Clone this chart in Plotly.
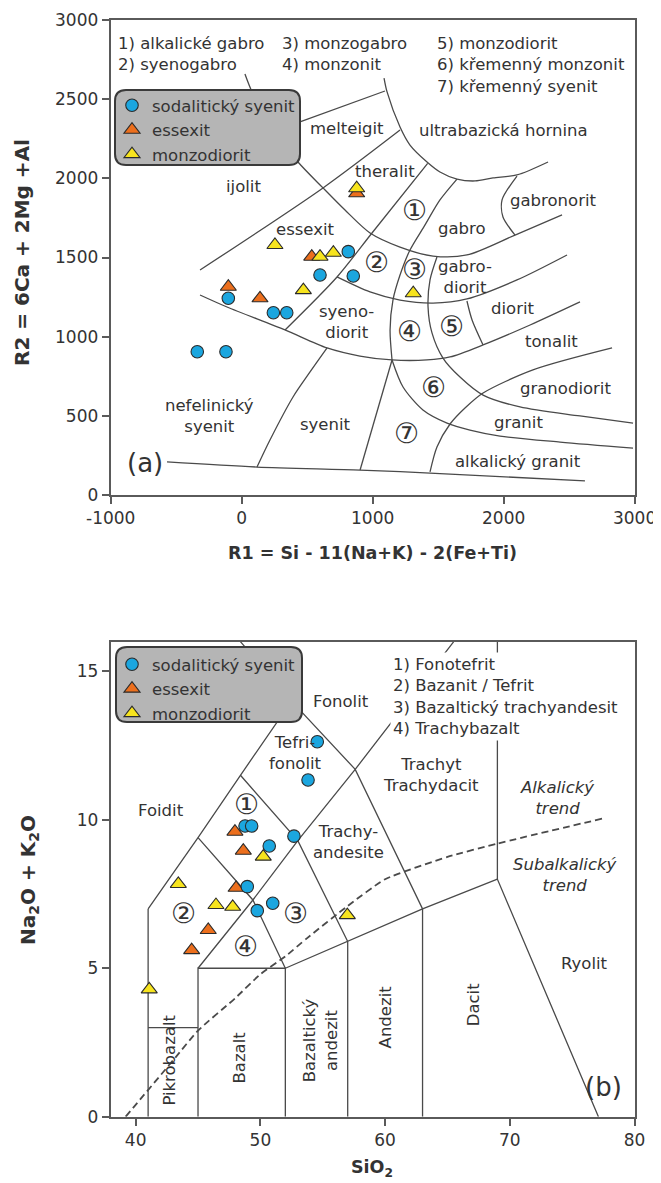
import plotly.graph_objects as go

# ---------------- (a) R1-R2 diagram : samples ----------------
sod_a_r1 = [814, 598, 852, -102, 242, 344, -339, -120]
sod_a_r2 = [1537, 1389, 1383, 1242, 1151, 1151, 904, 904]
ess_a_r1 = [878, 535, -102, 140]
ess_a_r2 = [1906, 1505, 1315, 1242]
mon_a_r1 = [878, 254, 598, 700, 1310, 471]
mon_a_r2 = [1938, 1579, 1505, 1530, 1274, 1294]

a_xticks = [-1000, 0, 1000, 2000, 3000]
a_xticktext = ["-1000", "0", "1000", "2000", "3000"]
a_yticks = [0, 500, 1000, 1500, 2000, 2500, 3000]

# field boundaries of diagram (a), (R1, R2)
a_bottom = [(-570, 207), (117, 175), (904, 156), (1438, 137), (2621, 87)]
a_ultrabasic = [(1087, 2635), (1110, 2547), (1209, 2325), (1285, 2211), (1415, 2104), (1514, 2041),
                (1644, 1996), (1782, 1984), (1919, 2003), (2102, 2022), (2339, 2104)]
a_melteigit = [(445, 2357), (1094, 2553)]
a_ijolit = [(-318, 1421), (621, 1940), (1209, 2306)]
a_arc1 = [(25, 2660), (79, 2547), (232, 2319), (430, 2104), (621, 1940), (789, 1800), (980, 1655),
          (1209, 1566), (1461, 1509), (1720, 1516), (2087, 1642), (2446, 1769)]
a_rb = [(1420, 2095), (995, 1655), (728, 1377), (331, 1042)]
a_arc2 = [(728, 1377), (980, 1282), (1209, 1231), (1461, 1212), (1720, 1238), (2102, 1358), (2484, 1516)]
a_rc = [(1644, 1996), (1514, 1864), (1400, 1706), (1285, 1547), (1209, 1389), (1155, 1231),
        (1133, 1042), (1148, 852)]
a_rc_low = [(1148, 852), (904, 156)]
a_rd = [(1491, 1503), (1438, 1358), (1423, 1187), (1453, 1023), (1537, 864), (1667, 744),
        (1843, 630), (2125, 555), (2583, 498), (2988, 453)]
a_gabronorit = [(2102, 2015), (1988, 1864), (1995, 1756), (2087, 1642)]
a_diorit = [(1720, 1225), (1759, 1105), (1843, 947)]
a_arc3 = [(-318, 1263), (-112, 1187), (331, 1042), (652, 928), (903, 877), (1148, 852), (1415, 852),
          (1591, 871), (1843, 947), (2202, 1073), (2583, 1219)]
a_syenit = [(652, 928), (522, 776), (392, 618), (216, 346), (117, 175)]
a_arc4 = [(1148, 852), (1232, 681), (1384, 536), (1568, 453), (1743, 409), (1972, 371),
          (2431, 333), (2988, 295)]
a_re = [(1438, 144), (1491, 302), (1591, 447), (1705, 548), (1843, 643), (2224, 789), (2828, 928)]

a_curves = [a_ultrabasic, a_arc1, a_arc2, a_rc, a_rd, a_gabronorit, a_diorit, a_arc3, a_syenit, a_arc4, a_re,
            a_ijolit, a_rb, a_bottom]
a_straight = [a_melteigit, a_rc_low]

a_labels = ["melteigit", "ultrabazická hornina", "ijolit", "theralit", "①", "gabro", "gabronorit",
            "essexit", "②", "③", "gabro-<br>diorit", "diorit", "syeno-<br>diorit", "④", "⑤", "tonalit",
            "⑥", "granodiorit", "nefelinický<br>syenit", "syenit", "⑦", "granit", "alkalický granit"]
a_label_x = [802, 1998, 12, 1094, 1323, 1680, 2379, 491, 1031, 1323, 1705, 2074, 802, 1285, 1604, 2367,
             1463, 2474, -242, 642, 1260, 2112, 2112]
a_label_y = [2317, 2306, 1948, 2043, 1800, 1685, 1859, 1678, 1467, 1421, 1379, 1179, 1094, 1031, 1062, 968,
             679, 673, 496, 447, 384, 455, 209]

a_key_col1 = "1) alkalické gabro<br>2) syenogabro"
a_key_col2 = "3) monzogabro<br>4) monzonit"
a_key_col3 = "5) monzodiorit<br>6) křemenný monzonit<br>7) křemenný syenit"

# ---------------- (b) TAS diagram : samples ----------------
sod_b_si = [54.56, 53.82, 48.77, 49.30, 52.69, 50.71, 48.95, 50.99, 49.75]
sod_b_alk = [12.63, 11.34, 9.79, 9.79, 9.45, 9.12, 7.75, 7.19, 6.94]
ess_b_si = [47.96, 48.63, 48.05, 45.82, 44.49]
ess_b_alk = [9.60, 8.96, 7.71, 6.29, 5.61]
mon_b_si = [50.23, 43.42, 46.44, 47.78, 56.97, 41.09]
mon_b_alk = [8.76, 7.84, 7.13, 7.07, 6.79, 4.29]

b_xticks = [40, 50, 60, 70, 80]
b_yticks = [0, 5, 10, 15]

b_pikro_v = [(41, 0), (41, 7)]
b_pikro_h = [(41, 3), (45, 3)]
b_basalt = [(45, 0), (45, 5), (52, 5), (52, 0)]
b_57 = [(57, 0), (57, 5.9)]
b_63 = [(63, 0), (63, 7)]
b_69 = [(69, 16), (69, 8), (77.1, 0)]
b_sub = [(52, 5), (57, 5.9), (63, 7), (69, 8)]
b_foid = [(41, 7), (45, 9.4), (48.4, 11.5), (52.5, 14), (48.4, 16)]
b_u1 = [(45, 9.4), (49.4, 7.3), (52, 5)]
b_s = [(45, 5), (49.4, 7.3), (53, 9.3), (57.6, 11.7), (65.5, 16)]
b_u2 = [(48.4, 11.5), (53, 9.3), (57, 5.9)]
b_u3 = [(52.5, 14), (57.6, 11.7), (63, 7)]
b_lines = [b_pikro_v, b_pikro_h, b_basalt, b_57, b_63, b_69, b_sub, b_foid, b_u1, b_s, b_u2, b_u3]

b_trend_si = [39.2, 43.2, 45, 48, 50, 52, 53.7, 57, 60, 65, 69, 77.5]
b_trend_alk = [0, 2, 2.9, 4, 4.8, 5.4, 6, 7.1, 8, 8.75, 9.2, 10.05]

b_labels = ["Fonolit", "Tefri-<br>fonolit", "Foidit", "①", "Trachy-<br>andesite", "Trachyt<br>Trachydacit",
            "②", "③", "④", "Ryolit"]
b_label_x = [56.5, 52.8, 42.0, 48.9, 57.05, 63.7, 43.8, 52.8, 48.8, 76.0]
b_label_y = [14.0, 12.25, 10.33, 10.5, 9.27, 11.5, 6.85, 6.85, 5.73, 5.17]
b_italic = ["Alkalický<br>trend", "Subalkalický<br>trend"]
b_italic_x = [73.75, 74.4]
b_italic_y = [10.75, 8.15]
b_vert = ["Pikrobazalt", "Bazalt", "Bazaltický<br>andezit", "Andezit", "Dacit"]
b_vert_x = [42.7, 48.3, 54.8, 60.05, 67.06]
b_vert_y = [1.9, 2.0, 2.58, 3.37, 3.76]
b_key = "1) Fonotefrit<br>2) Bazanit / Tefrit<br>3) Bazaltický trachyandesit<br>4) Trachybazalt"

series_names = ["sodalitický syenit", "essexit", "monzodiorit"]

# ---------------- styling ----------------
FONT = "DejaVu Sans, Liberation Sans, Arial, sans-serif"
TXT = "#333333"
LINE = "#4a4a4a"
BLUE, ORANGE, YELLOW = "#1ba6df", "#ec6f1d", "#f7e41e"
EDGE = "#2b2b2b"
FS = 16.5
CIRC = 28

# page places the figure 8px from the top-left corner; positions below are page pixels
OFF = 8
W, H = 661 - OFF, 1183 - OFF


def PX(px):
    return (px - OFF) / W


def PY(py):
    return 1 - (py - OFF) / H


fig = go.Figure()


def add_line(pts, xa, ya, shape="linear", dash="solid", width=1.3):
    fig.add_trace(go.Scatter(x=[p[0] for p in pts], y=[p[1] for p in pts], mode="lines",
                             line=dict(color=LINE, width=width, shape=shape, dash=dash, smoothing=0.8),
                             xaxis=xa, yaxis=ya, showlegend=False, hoverinfo="skip"))


for c in a_curves:
    add_line(c, "x", "y", shape="spline")
for c in a_straight:
    add_line(c, "x", "y")
for c in b_lines:
    add_line(c, "x2", "y2")
fig.add_trace(go.Scatter(x=b_trend_si, y=b_trend_alk, mode="lines",
                         line=dict(color=LINE, width=1.8, dash="7px,4px", shape="spline", smoothing=0.5),
                         xaxis="x2", yaxis="y2", showlegend=False, hoverinfo="skip"))

mk = dict(line=dict(color=EDGE, width=1.1))
# (a) samples
fig.add_trace(go.Scatter(x=sod_a_r1, y=sod_a_r2, mode="markers", name=series_names[0],
                         marker=dict(symbol="circle", size=12.5, color=BLUE, **mk), xaxis="x", yaxis="y",
                         legend="legend"))
fig.add_trace(go.Scatter(x=ess_a_r1, y=ess_a_r2, mode="markers", name=series_names[1],
                         marker=dict(symbol="triangle-up", size=14, color=ORANGE, **mk), xaxis="x", yaxis="y",
                         legend="legend"))
fig.add_trace(go.Scatter(x=mon_a_r1, y=mon_a_r2, mode="markers", name=series_names[2],
                         marker=dict(symbol="triangle-up", size=14, color=YELLOW, **mk), xaxis="x", yaxis="y",
                         legend="legend"))
# (b) samples
fig.add_trace(go.Scatter(x=ess_b_si, y=ess_b_alk, mode="markers", name=series_names[1], legendrank=2,
                         marker=dict(symbol="triangle-up", size=14, color=ORANGE, **mk), xaxis="x2", yaxis="y2",
                         legend="legend2"))
fig.add_trace(go.Scatter(x=mon_b_si, y=mon_b_alk, mode="markers", name=series_names[2], legendrank=3,
                         marker=dict(symbol="triangle-up", size=14, color=YELLOW, **mk), xaxis="x2", yaxis="y2",
                         legend="legend2"))
fig.add_trace(go.Scatter(x=sod_b_si, y=sod_b_alk, mode="markers", name=series_names[0], legendrank=1,
                         marker=dict(symbol="circle", size=12.5, color=BLUE, **mk), xaxis="x2", yaxis="y2",
                         legend="legend2"))


def rbox(x0, y0, x1, y1, r=11):
    # rounded rectangle in paper coords from page-pixel box
    return (f"M {PX(x0 + r)},{PY(y0)} L {PX(x1 - r)},{PY(y0)} Q {PX(x1)},{PY(y0)} {PX(x1)},{PY(y0 + r)} "
            f"L {PX(x1)},{PY(y1 - r)} Q {PX(x1)},{PY(y1)} {PX(x1 - r)},{PY(y1)} "
            f"L {PX(x0 + r)},{PY(y1)} Q {PX(x0)},{PY(y1)} {PX(x0)},{PY(y1 - r)} "
            f"L {PX(x0)},{PY(y0 + r)} Q {PX(x0)},{PY(y0)} {PX(x0 + r)},{PY(y0)} Z")


shapes = [
    dict(type="path", path=rbox(115, 90, 300, 165), xref="paper", yref="paper", layer="above",
         fillcolor="#b5b5b5", line=dict(color="#3a3a3a", width=2)),
    dict(type="path", path=rbox(116, 647, 302, 722), xref="paper", yref="paper", layer="above",
         fillcolor="#b5b5b5", line=dict(color="#3a3a3a", width=2)),
]

ann = []
C = dict(xanchor="center", yanchor="middle", showarrow=False)
for t, x, y in zip(a_labels, a_label_x, a_label_y):
    big = t in "①②③④⑤⑥⑦"
    ann.append(dict(text=t, x=x, y=y, xref="x", yref="y", **C,
                    font=dict(family=FONT, size=CIRC if big else FS, color=TXT)))
ann.append(dict(text="(a)", x=-738, y=200, xref="x", yref="y", **C,
                font=dict(family=FONT, size=26, color=TXT)))
for t, px in zip([a_key_col1, a_key_col2, a_key_col3], [116, 280, 435]):
    ann.append(dict(text=t, x=PX(px), y=PY(32), xref="paper", yref="paper", xanchor="left", yanchor="top",
                    align="left", showarrow=False, font=dict(family=FONT, size=FS, color=TXT)))

for t, x, y in zip(b_labels, b_label_x, b_label_y):
    big = t in "①②③④"
    ann.append(dict(text=t, x=x, y=y, xref="x2", yref="y2", **C,
                    font=dict(family=FONT, size=CIRC if big else FS, color=TXT)))
for t, x, y in zip(b_italic, b_italic_x, b_italic_y):
    ann.append(dict(text=f"<i>{t.replace('<br>', '</i><br><i>')}</i>", x=x, y=y, xref="x2", yref="y2",
                    **C, font=dict(family=FONT, size=FS, color=TXT)))
for t, x, y in zip(b_vert, b_vert_x, b_vert_y):
    ann.append(dict(text=t, x=x, y=y, xref="x2", yref="y2", textangle=-90, **C,
                    font=dict(family=FONT, size=FS, color=TXT)))
ann.append(dict(text="(b)", x=77.5, y=1.01, xref="x2", yref="y2", **C,
                font=dict(family=FONT, size=26, color=TXT)))
ann.append(dict(text=b_key, x=PX(390), y=PY(652), xref="paper", yref="paper", xanchor="left",
                yanchor="top", align="left", showarrow=False, bgcolor="white", borderpad=2,
                font=dict(family=FONT, size=FS, color=TXT)))

# axis titles
TF = dict(family="DejaVu Sans, Arial, sans-serif", size=17.5, color=TXT)
TFV = dict(family="DejaVu Sans, Arial, sans-serif", size=20, color=TXT)
ann.append(dict(text="<b>R2 = 6Ca + 2Mg +Al</b>", x=PX(22), y=PY(253), xref="paper", yref="paper",
                textangle=-90, **C, font=TFV))
ann.append(dict(text="<b>R1 = Si - 11(Na+K) - 2(Fe+Ti)</b>", x=PX(372), y=PY(553), xref="paper",
                yref="paper", **C, font=TF))
ann.append(dict(text="<b>Na<sub>2</sub>O + K<sub>2</sub>O</b>", x=PX(29), y=PY(880), xref="paper",
                yref="paper", textangle=-90, **C, font=TFV))
ann.append(dict(text="<b>SiO<sub>2</sub></b>", x=PX(372), y=PY(1168), xref="paper", yref="paper",
                **C, font=TF))

ax = dict(showgrid=False, zeroline=False, showline=True, mirror=True, linecolor="#5a5a5a", linewidth=2,
          ticks="outside", ticklen=7, tickwidth=1.5, tickcolor="#5a5a5a", automargin=False,
          tickfont=dict(family=FONT, size=17, color=TXT))

fig.update_layout(
    width=W, height=H, margin=dict(l=0, r=0, t=0, b=0, autoexpand=False), plot_bgcolor="white",
    paper_bgcolor="white",
    xaxis=dict(domain=[PX(110.7), PX(634.6)], range=[-1000, 3000], tickvals=a_xticks, ticktext=a_xticktext,
               anchor="y", **ax),
    yaxis=dict(domain=[PY(494.7), PY(20.3)], range=[0, 3000], tickvals=a_yticks, anchor="x", **ax),
    xaxis2=dict(domain=[PX(110.7), PX(634.6)], range=[38, 80], tickvals=b_xticks, anchor="y2", **ax),
    yaxis2=dict(domain=[PY(1116.7), PY(641.7)], range=[0, 16], tickvals=b_yticks, anchor="x2", **ax),
    legend=dict(x=PX(112), y=PY(88), xanchor="left", yanchor="top", bgcolor="rgba(0,0,0,0)",
                font=dict(family=FONT, size=FS, color=TXT), tracegroupgap=0, itemwidth=30),
    legend2=dict(x=PX(112), y=PY(647), xanchor="left", yanchor="top", bgcolor="rgba(0,0,0,0)",
                 font=dict(family=FONT, size=FS, color=TXT), tracegroupgap=0, itemwidth=30),
    shapes=shapes, annotations=ann, showlegend=True,
)

fig.write_html("out.html")
